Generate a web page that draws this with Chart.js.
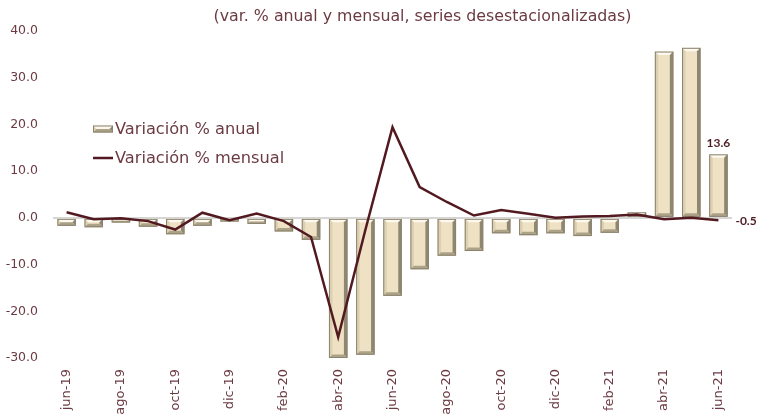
<!DOCTYPE html>
<html>
<head>
<meta charset="utf-8">
<script src="https://cdn.jsdelivr.net/npm/chart.js@4/dist/chart.umd.min.js"></script>
<style>
html,body{margin:0;padding:0;background:#fff;}
#wrap{position:relative;width:766px;height:418px;}
</style>
</head>
<body>
<div id="wrap"><canvas id="c" width="766" height="418"></canvas></div>
<script>
const categories = ['jun-19','jul-19','ago-19','sep-19','oct-19','nov-19','dic-19','ene-20','feb-20','mar-20','abr-20','may-20','jun-20','jul-20','ago-20','sep-20','oct-20','nov-20','dic-20','ene-21','feb-21','mar-21','abr-21','may-21','jun-21'];
const variacionAnual = [-1.7,-2.0,-1.0,-1.9,-3.5,-1.7,-0.8,-1.3,-2.9,-4.7,-30.0,-29.3,-16.7,-11.0,-8.1,-7.1,-3.3,-3.7,-3.3,-3.9,-3.2,1.2,35.6,36.4,13.6];
const variacionMensual = [1.2,-0.3,-0.1,-0.7,-2.5,1.1,-0.5,0.9,-0.7,-4.1,-25.5,-2.6,19.4,6.6,3.4,0.5,1.7,0.9,0.0,0.3,0.4,0.7,-0.3,0.0,-0.5];
const yMin = -30, yMax = 40, yStep = 10;
const titleText = '(var. % anual y mensual, series desestacionalizadas)';
const legendLabels = ['Variación % anual','Variación % mensual'];

const FONT = '"DejaVu Sans", sans-serif';
const TXT = '#6b3a43';
const LINE = '#521a20';

function bevelBar(ctx, el){
  const w = el.width;
  const L = el.x - w/2, R = el.x + w/2;
  const T = Math.min(el.y, el.base), B = Math.max(el.y, el.base);
  const h = B - T;
  const b = Math.min(3.5, h/2, w/2);
  ctx.save();
  ctx.fillStyle = '#efe2c4';
  ctx.fillRect(L, T, w, h);
  ctx.fillStyle = '#fdf9ef';
  ctx.beginPath(); ctx.moveTo(L,T); ctx.lineTo(R,T); ctx.lineTo(R-b,T+b); ctx.lineTo(L+b,T+b); ctx.closePath(); ctx.fill();
  ctx.fillStyle = '#ddd0b2';
  ctx.beginPath(); ctx.moveTo(L,T); ctx.lineTo(L+b,T+b); ctx.lineTo(L+b,B-b); ctx.lineTo(L,B); ctx.closePath(); ctx.fill();
  ctx.fillStyle = '#8f8771';
  ctx.beginPath(); ctx.moveTo(R,T); ctx.lineTo(R,B); ctx.lineTo(R-b,B-b); ctx.lineTo(R-b,T+b); ctx.closePath(); ctx.fill();
  ctx.fillStyle = '#aca288';
  ctx.beginPath(); ctx.moveTo(L,B); ctx.lineTo(L+b,B-b); ctx.lineTo(R-b,B-b); ctx.lineTo(R,B); ctx.closePath(); ctx.fill();
  ctx.strokeStyle = '#8a8370';
  ctx.lineWidth = 1;
  ctx.strokeRect(L+0.5, T+0.5, w-1, Math.max(h-1,0));
  ctx.restore();
}

const deco = {
  id: 'deco',
  afterDatasetDraw(chart, args){
    if (args.meta.type !== 'bar') return;
    const ctx = chart.ctx;
    args.meta.data.forEach(el => bevelBar(ctx, el));
  },
  afterDraw(chart){
    const ctx = chart.ctx, a = chart.chartArea;
    ctx.save();
    ctx.fillStyle = TXT;
    ctx.font = '15.8px ' + FONT;
    ctx.textAlign = 'center';
    ctx.textBaseline = 'middle';
    ctx.fillText(titleText, (a.left + a.right)/2 + 30, 17);
    const lx = a.left + 40;
    const ly1 = a.top + 98, ly2 = a.top + 127;
    bevelBar(ctx, {x: lx + 10, width: 20, y: ly1 - 3.5, base: ly1 + 3.5});
    ctx.strokeStyle = LINE; ctx.lineWidth = 2.5;
    ctx.beginPath(); ctx.moveTo(lx, ly2); ctx.lineTo(lx + 20, ly2); ctx.stroke();
    ctx.fillStyle = TXT;
    ctx.font = '16.2px ' + FONT;
    ctx.textAlign = 'left';
    ctx.fillText(legendLabels[0], lx + 22, ly1 + 1);
    ctx.fillText(legendLabels[1], lx + 22, ly2 + 1);
    const barMeta = chart.getDatasetMeta(1), lineMeta = chart.getDatasetMeta(0);
    const n = categories.length - 1;
    const be = barMeta.data[n], le = lineMeta.data[n];
    ctx.font = 'bold 12px Lato, ' + FONT;
    ctx.fillStyle = '#4d1d25';
    ctx.textAlign = 'center';
    ctx.textBaseline = 'bottom';
    ctx.fillText(variacionAnual[n].toFixed(1), be.x, be.y - 5);
    ctx.textAlign = 'left';
    ctx.textBaseline = 'middle';
    ctx.fillText(variacionMensual[n].toFixed(1), le.x + 17, le.y + 1);
    ctx.restore();
  }
};

new Chart(document.getElementById('c'), {
  data: {
    labels: categories,
    datasets: [
      { type: 'line', label: legendLabels[1], data: variacionMensual, borderColor: LINE, borderWidth: 2.5, pointRadius: 0, tension: 0, fill: false, order: 0 },
      { type: 'bar', label: legendLabels[0], data: variacionAnual, backgroundColor: '#efe2c4', borderWidth: 0, categoryPercentage: 1, barPercentage: 0.68, order: 1 }
    ]
  },
  options: {
    responsive: false,
    animation: false,
    devicePixelRatio: 1,
    layout: { padding: { top: 31, right: 34, left: 0, bottom: 0 } },
    plugins: { legend: { display: false }, tooltip: { enabled: false }, title: { display: false } },
    scales: {
      x: {
        grid: { display: false },
        border: { display: false },
        ticks: {
          autoSkip: false, maxRotation: 90, minRotation: 90, padding: 3,
          color: TXT, font: { family: FONT, size: 13 },
          callback: function(v, i){ return i % 2 === 0 ? categories[i] : ''; }
        },
        afterFit(s){ s.height = 60; }
      },
      y: {
        min: yMin, max: yMax,
        border: { display: false },
        grid: { drawTicks: false, color: c => c.tick && c.tick.value === 0 ? '#d6d6d6' : 'rgba(0,0,0,0)', lineWidth: 2 },
        ticks: { stepSize: yStep, padding: 15, color: TXT, font: { family: FONT, size: 12.5 }, callback: v => v.toFixed(1) },
        afterFit(s){ s.width = 53; }
      }
    }
  },
  plugins: [deco]
});
</script>
</body>
</html>
